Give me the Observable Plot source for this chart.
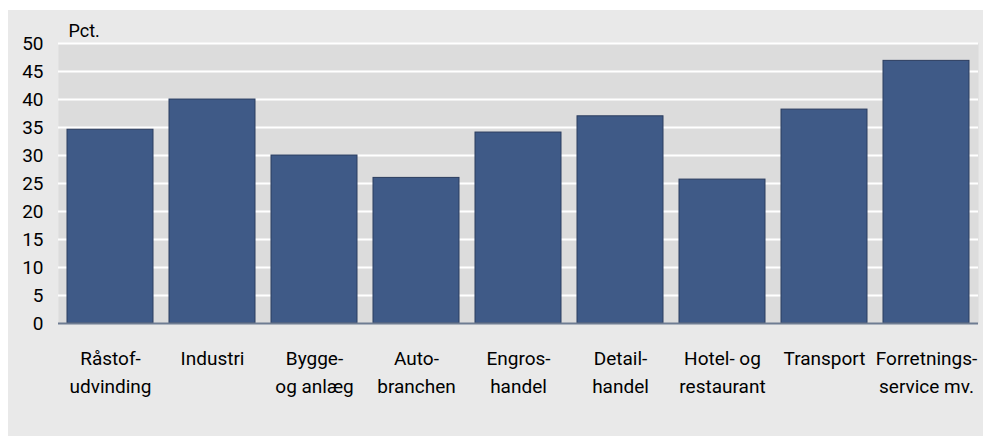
<!DOCTYPE html>
<html>
<head>
<meta charset="utf-8">
<script src="https://cdn.jsdelivr.net/npm/d3@7"></script>
<script src="https://cdn.jsdelivr.net/npm/@observablehq/plot@0.6"></script>
<style>
  html, body { margin: 0; padding: 0; background: #ffffff; }
  #chart { position: absolute; left: 8px; top: 10px; width: 975px; height: 426px; background: #e9e9e9; }
  #chart svg { display: block; font-family: Roboto, "Open Sans", sans-serif; }
</style>
</head>
<body>
<div id="chart"></div>
<script>
const categories = ["Råstof-\nudvinding", "Industri", "Bygge-\nog anlæg", "Auto-\nbranchen", "Engros-\nhandel", "Detail-\nhandel", "Hotel- og\nrestaurant", "Transport", "Forretnings-\nservice mv."];
const values = [34.6, 40.0, 30.0, 26.0, 34.1, 37.0, 25.7, 38.2, 46.9];
const yTicks = [0, 5, 10, 15, 20, 25, 30, 35, 40, 45, 50];
const unitLabel = ["Pct."];

const data = categories.map((c, i) => ({cat: c, val: values[i]}));

const chart = Plot.plot({
  width: 975,
  height: 426,
  marginLeft: 50,
  marginRight: 5,
  marginTop: 33,
  marginBottom: 113,
  style: {background: "transparent", fontFamily: "Roboto, 'Open Sans', sans-serif", fontSize: "19px", color: "#000"},
  x: {domain: categories, paddingInner: 0.16, paddingOuter: 0.085, label: null},
  y: {domain: [0, 50], label: null},
  marks: [
    Plot.frame({fill: "#dcdcdc", stroke: null}),
    Plot.ruleY(yTicks.filter(d => d > 0), {stroke: "#ffffff", strokeWidth: 2.2}),
    Plot.barY(data, {x: "cat", y: "val", fill: "#3f5a87", stroke: "#2b3c5e", strokeWidth: 1}),
    Plot.ruleY([0], {stroke: "#6e7c92", strokeWidth: 2}),
    Plot.axisY({ticks: yTicks, tickSize: 0, tickPadding: 15, fontSize: 19, label: null}),
    Plot.axisX({tickSize: 0, tickPadding: 21, fontSize: 19, lineHeight: 1.5, label: null}),
    Plot.text(unitLabel, {text: d => d, frameAnchor: "top-left", textAnchor: "start", lineAnchor: "bottom", dx: 10, dy: -7, fontSize: 18})
  ]
});
document.getElementById("chart").appendChild(chart);
</script>
</body>
</html>
